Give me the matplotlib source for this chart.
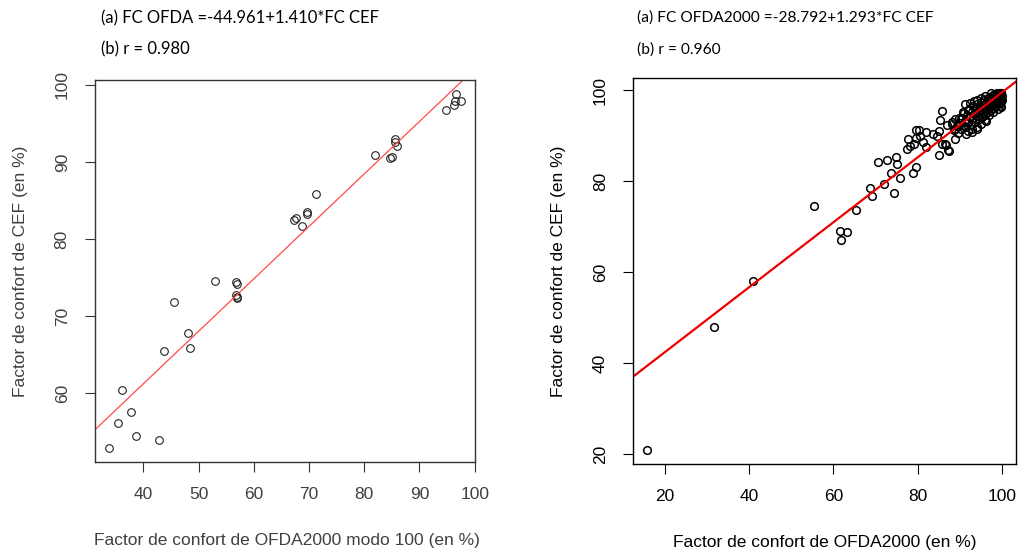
import numpy as np
import matplotlib
matplotlib.use("Agg")
import matplotlib.pyplot as plt

# ---- data ----
# left panel: OFDA2000 modo 100 vs CEF
ofda_m100 = [33.8, 35.4, 36.1, 37.8, 38.7, 42.8, 43.7, 45.6, 48.0, 48.5, 52.9,
             56.8, 56.9, 56.7, 57.0, 56.9, 67.2, 67.7, 68.8, 69.65, 69.7, 71.2,
             82.0, 84.7, 85.1, 85.5, 85.6, 86.0, 94.8, 96.6, 96.2, 96.5, 97.5]
cef_left = [52.9, 56.1, 60.35, 57.6, 54.4, 53.95, 65.45, 71.8, 67.75, 65.9, 74.5,
            74.4, 74.1, 72.8, 72.3, 72.5, 82.5, 82.7, 81.65, 83.5, 83.3, 85.85,
            90.95, 90.5, 90.7, 93.0, 92.65, 92.05, 96.8, 98.8, 97.45, 97.85, 97.9]
left_intercept = 33.97
left_slope = 0.681
left_eq = "(a) FC OFDA =-44.961+1.410*FC CEF"
left_r = "(b) r = 0.980"

# right panel: OFDA2000 vs CEF
ofda_2000 = [15.8, 31.5, 40.8, 55.4, 61.8, 61.5, 63.3, 65.3, 68.6, 69.1, 70.6,
             72.0, 72.8, 73.6, 74.4, 74.8, 75.2, 75.8,
             77.4, 77.8, 78.2, 78.9, 79.6, 79.1, 79.7, 79.5, 80.5, 81.2, 81.9,
             82.0, 80.4, 83.7, 84.6, 85.1, 85.3, 85.9, 86.7, 87.5, 85.1, 85.7,
             86.5, 86.9, 88.1, 88.8, 88.8, 89.6, 90.4, 91.2, 90.8, 92.0, 91.6,
             92.8, 94.0, 96.2, 91.6, 87.3,
             88.2, 88.6, 88.9, 89.3, 89.5, 89.8, 90.1, 90.3, 90.6, 90.9, 91.1,
             91.3, 91.6, 91.8, 92.0, 92.2, 92.4, 92.6, 92.8, 93.0, 93.2, 93.4,
             93.6, 93.8, 94.0, 94.2, 94.4, 94.5, 94.7, 94.9, 95.0, 95.2, 95.3,
             95.5, 95.7, 95.8, 96.0, 96.1, 96.3, 96.4, 96.6, 96.7, 96.8, 97.0,
             97.1, 97.2, 97.4, 97.5, 97.6, 97.7, 97.9, 98.0, 98.1, 98.2, 98.3,
             98.4, 98.5, 98.6, 98.7, 98.8, 98.9, 99.0, 99.1, 99.2, 99.3, 99.4,
             99.5, 99.6, 99.7, 99.8, 99.9, 100.0, 99.9, 99.5, 99.0, 98.0, 97.0,
             96.0, 95.0, 94.0, 93.0, 92.0, 99.8, 100.0, 99.7, 97.5, 96.0, 95.0,
             94.0, 93.5, 92.5]
cef_right = [21.0, 48.0, 58.0, 74.6, 67.2, 69.0, 68.8, 73.6, 78.5, 76.7, 84.2,
             79.3, 84.7, 81.8, 77.5, 85.4, 83.8, 80.8,
             87.2, 89.4, 87.7, 81.8, 83.1, 88.3, 91.3, 89.6, 89.9, 88.6, 87.5,
             90.8, 91.2, 90.3, 90.0, 91.0, 93.4, 95.4, 87.9, 86.6, 85.7, 88.1,
             88.3, 92.4, 93.1, 91.6, 89.4, 92.4, 93.8, 97.1, 95.3, 95.7, 93.1,
             90.9, 91.6, 93.2, 90.5, 86.8,
             92.5, 91.3, 93.6, 92.1, 90.6, 94.0, 92.8, 91.5, 93.9, 92.2, 95.0,
             93.3, 91.9, 94.5, 93.0, 96.0, 94.1, 92.5, 95.3, 93.8, 96.5, 94.7,
             93.1, 95.8, 94.3, 97.0, 95.2, 93.6, 96.3, 94.8, 97.5, 95.7, 94.1,
             96.8, 95.2, 97.9, 96.2, 94.6, 97.3, 95.8, 98.3, 96.7, 95.2, 97.8,
             96.3, 98.6, 97.1, 95.7, 98.2, 96.8, 99.0, 97.5, 96.1, 98.5, 97.2,
             99.2, 97.9, 96.6, 98.8, 97.6, 99.4, 98.2, 96.9, 99.0, 97.8, 99.5,
             98.4, 97.2, 99.1, 98.0, 99.4, 98.7, 97.5, 96.5, 95.8, 95.3, 94.5,
             93.5, 92.6, 92.0, 91.6, 91.0, 96.3, 97.8, 99.3, 99.3, 98.8, 98.4,
             97.8, 97.6, 97.2]
right_intercept = 28.24
right_slope = 0.7128
right_eq = "(a) FC OFDA2000 =-28.792+1.293*FC CEF"
right_r = "(b) r = 0.960"

W, H = 1019, 554
fig = plt.figure(figsize=(W / 100, H / 100), dpi=100)
plt.rcParams['font.family'] = ['Liberation Sans', 'DejaVu Sans']


def px(x, y):
    # figure pixel -> figure fraction
    return x / W, 1 - y / H


def rlim(v):
    # R style 4% range expansion
    lo, hi = min(v), max(v)
    d = 0.04 * (hi - lo)
    return lo - d, hi + d


def r_axes(rect, txt_color, box_color):
    ax = fig.add_axes(rect)
    for s in ax.spines.values():
        s.set_color(box_color)
        s.set_linewidth(1.0)
    ax.tick_params(direction='out', length=7.2, width=0.8, color=box_color,
                   labelsize=12.5, labelcolor=txt_color, pad=11)
    return ax


## Left panel
axL = r_axes([95 / W, 1 - 462 / H, 380 / W, 382 / H], '#404040', '#333333')
axL.plot(ofda_m100, cef_left, 'o', mfc='none', mec='#222222', ms=5.5, mew=0.8)
axL.set_xlim(rlim(ofda_m100))
axL.set_ylim(rlim(cef_left))
axL.axline((0, left_intercept), slope=left_slope, color='#ff4a4a', lw=0.9)
axL.set_xticks([40, 50, 60, 70, 80, 90, 100])
axL.set_yticks([60, 70, 80, 90, 100])
axL.set_yticklabels(['60', '70', '80', '90', '100'], rotation=90, va='center')

## Right panel
axR = r_axes([633.3 / W, 1 - 464 / H, 382.7 / W, 385.7 / H], '#000000', '#000000')
axR.plot(ofda_2000, cef_right, 'o', mfc='none', mec='black', ms=5.5, mew=1.1)
axR.set_xlim(rlim(ofda_2000))
axR.set_ylim(rlim(cef_right))
axR.axline((0, right_intercept), slope=right_slope, color='#ee0000', lw=1.6)
axR.set_xticks([20, 40, 60, 80, 100])
axR.set_yticks([20, 40, 60, 80, 100])
axR.set_yticklabels(['20', '40', '60', '80', '100'], rotation=90, va='center')

# axis titles
fig.text(*px(287, 540), "Factor de confort de OFDA2000 modo 100 (en %)",
         ha='center', va='center', fontsize=12.5, color='#404040')
fig.text(*px(21, 271), "Factor de confort de CEF (en %)", rotation=90,
         ha='center', va='center', fontsize=12.5, color='#404040')
fig.text(*px(825, 543), "Factor de confort de OFDA2000 (en %)",
         ha='center', va='center', fontsize=12.5, color='black')
fig.text(*px(558, 271), "Factor de confort de CEF (en %)", rotation=90,
         ha='center', va='center', fontsize=12.5, color='black')

# equations
ann = dict(ha='left', va='center', family=['Lato', 'DejaVu Sans'])
fig.text(*px(101, 18), left_eq, fontsize=12, **ann)
fig.text(*px(101, 49), left_r, fontsize=12, **ann)
fig.text(*px(637, 18), right_eq, fontsize=11.2, **ann)
fig.text(*px(637, 50), right_r, fontsize=11.2, **ann)

fig.savefig("out.png", dpi=100)
